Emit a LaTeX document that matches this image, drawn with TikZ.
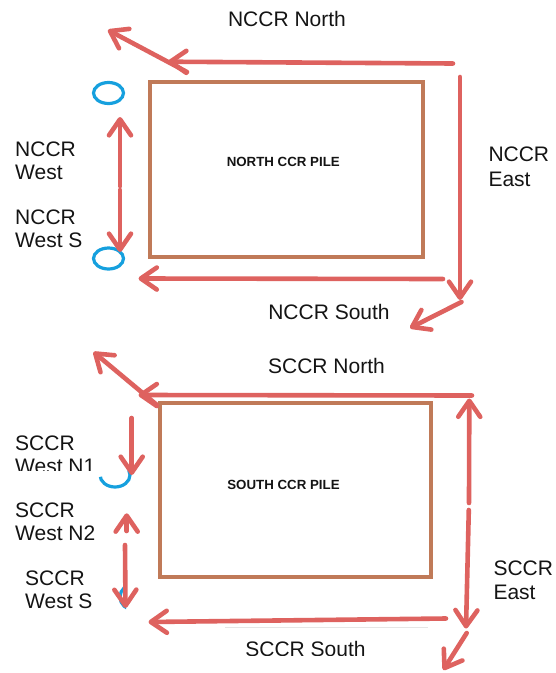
\documentclass[tikz,border=0pt]{standalone}
\usepackage{fontspec}
\setmainfont{Liberation Sans}
\usetikzlibrary{arrows.meta}
\definecolor{flowred}{RGB}{222,98,95}
\definecolor{pilebrown}{RGB}{192,122,88}
\definecolor{gaugeblue}{RGB}{22,160,222}
\definecolor{labelink}{RGB}{20,20,20}
\begin{document}
\begin{tikzpicture}[x=1pt,y=-1pt,
  flow/.style={draw=flowred, line width=4.6pt, line cap=round, line join=round,
    -{Straight Barb[length=16pt,width=22pt,round]},
    preaction={draw=black!70, draw opacity=0.16,
      transform canvas={shift={(0.8pt,-1.5pt)}}}},
  pile/.style={draw=pilebrown, line width=4pt, inner sep=0pt, outer sep=0pt},
  gauge/.style={draw=gaugeblue, line width=3.2pt},
  lbl/.style={anchor=base west, inner sep=0pt, text=labelink,
    font=\fontsize{21}{24}\selectfont},
  lblc/.style={lbl, anchor=base},
  piletext/.style={anchor=base, inner sep=0pt, text=labelink,
    font=\bfseries\fontsize{13.3}{15}\selectfont},
]
\useasboundingbox (0,0) rectangle (556,673);

% ---------------- North CCR pile ----------------
\node[pile, minimum width=272.5pt, minimum height=174.7pt] (npile) at (286.25,169.35) {};
\node[piletext] (ntext) at (283.3,166) {NORTH CCR PILE};

% monitoring points on the west side
\draw[gauge] (108.5,93) ellipse [x radius=15, y radius=10.5];
\draw[gauge] (108.5,258.5) ellipse [x radius=15, y radius=10.5];

% labels
\node[lblc] (nNorthLbl) at (287,26) {NCCR North};
\node[lbl] (nWestA) at (15,156) {NCCR};
\node[lbl] (nWestB) at (15,179.5) {West};
\node[lbl] (nWestSA) at (15,224) {NCCR};
\node[lbl] (nWestSB) at (15,247) {West S};
\node[lbl] (nEastA) at (488.3,161.7) {NCCR};
\node[lbl] (nEastB) at (488.3,186) {East};
\node[lblc] (nSouthLbl) at (329,319.3) {NCCR South};

% flow directions
\coordinate (nN0) at (453,63.5);   \coordinate (nN1) at (168,61.7);
\coordinate (nD0) at (187,72);     \coordinate (nD1) at (108,30);
\coordinate (nE0) at (460,77);     \coordinate (nE1) at (460,300);
\coordinate (nF0) at (461.5,302);  \coordinate (nF1) at (410,328);
\coordinate (nS0) at (443,279);    \coordinate (nS1) at (138.5,278.5);
\coordinate (nW0) at (120,186);    \coordinate (nW1) at (120,117);
\coordinate (nW2) at (120,190);    \coordinate (nW3) at (120,252);
\draw[flow] (nN0) -- (nN1);
\draw[flow] (nD0) -- (nD1);
\draw[flow] (nE0) -- (nE1);
\draw[flow] (nF0) -- (nF1);
\draw[flow] (nS0) -- (nS1);
\draw[flow] (nW0) -- (nW1);
\draw[flow] (nW2) -- (nW3);

% ---------------- South CCR pile ----------------
\node[pile, minimum width=271pt, minimum height=174.5pt] (spile) at (295.5,489.75) {};
\node[piletext] (stext) at (283.5,489.3) {SOUTH CCR PILE};

% partly covered monitoring points
\begin{scope}
  \clip (95,478) -- (140,468) -- (140,500) -- (95,500) -- cycle;
  \draw[gauge] (115,475) ellipse [x radius=15, y radius=12];
\end{scope}
\begin{scope}
  \clip (110,580) rectangle (126,615);
  \draw[gauge] (134,597) ellipse [x radius=14, y radius=13];
\end{scope}

% labels
\node[lblc] (sNorthLbl) at (326.5,373.3) {SCCR North};
\node[lbl] (sWN1A) at (15,450) {SCCR};
\begin{scope}
  \clip (0,452) rectangle (110,470);
  \node[lbl] (sWN1B) at (15,473.5) {West N1};
\end{scope}
\node[lbl] (sWN2A) at (15,517.3) {SCCR};
\node[lbl] (sWN2B) at (15,540.7) {West N2};
\node[lbl] (sWSA) at (25,585) {SCCR};
\node[lbl] (sWSB) at (25,608.5) {West S};
\node[lbl] (sEastA) at (493.3,575) {SCCR};
\node[lbl] (sEastB) at (493.3,599.5) {East};
\draw[black!10, line width=1pt] (225,627) -- (428,627);
\begin{scope}
  \clip (200,630) rectangle (440,655);
  \node[lblc] (sSouthLbl) at (305.5,656.4) {SCCR South};
\end{scope}

% flow directions
\coordinate (sN0) at (472,395.5);  \coordinate (sN1) at (138.5,395);
\coordinate (sD0) at (157,405);    \coordinate (sD1) at (93.5,352);
\coordinate (sE0) at (469,503);    \coordinate (sE1) at (469.3,398.5);
\coordinate (sE2) at (468.8,510);  \coordinate (sE3) at (466,628.5);
\coordinate (sF0) at (466.7,633);  \coordinate (sF1) at (443.3,670);
\coordinate (sS0) at (446,618.5);  \coordinate (sS1) at (148.5,622);
\coordinate (sW0) at (131.7,418);  \coordinate (sW1) at (131.7,475);
\coordinate (sW2) at (126.7,531);  \coordinate (sW3) at (126.7,513.3);
\coordinate (sW4) at (125,545);    \coordinate (sW5) at (125.5,608);
\draw[flow] (sN0) -- (sN1);
\draw[flow] (sD0) -- (sD1);
\draw[flow] (sE0) -- (sE1);
\draw[flow] (sE2) -- (sE3);
\draw[flow] (sF0) -- (sF1);
\draw[flow] (sS0) -- (sS1);
\draw[flow] (sW0) -- (sW1);
\draw[flow] (sW2) -- (sW3);
\draw[flow] (sW4) -- (sW5);
\end{tikzpicture}
\end{document}
